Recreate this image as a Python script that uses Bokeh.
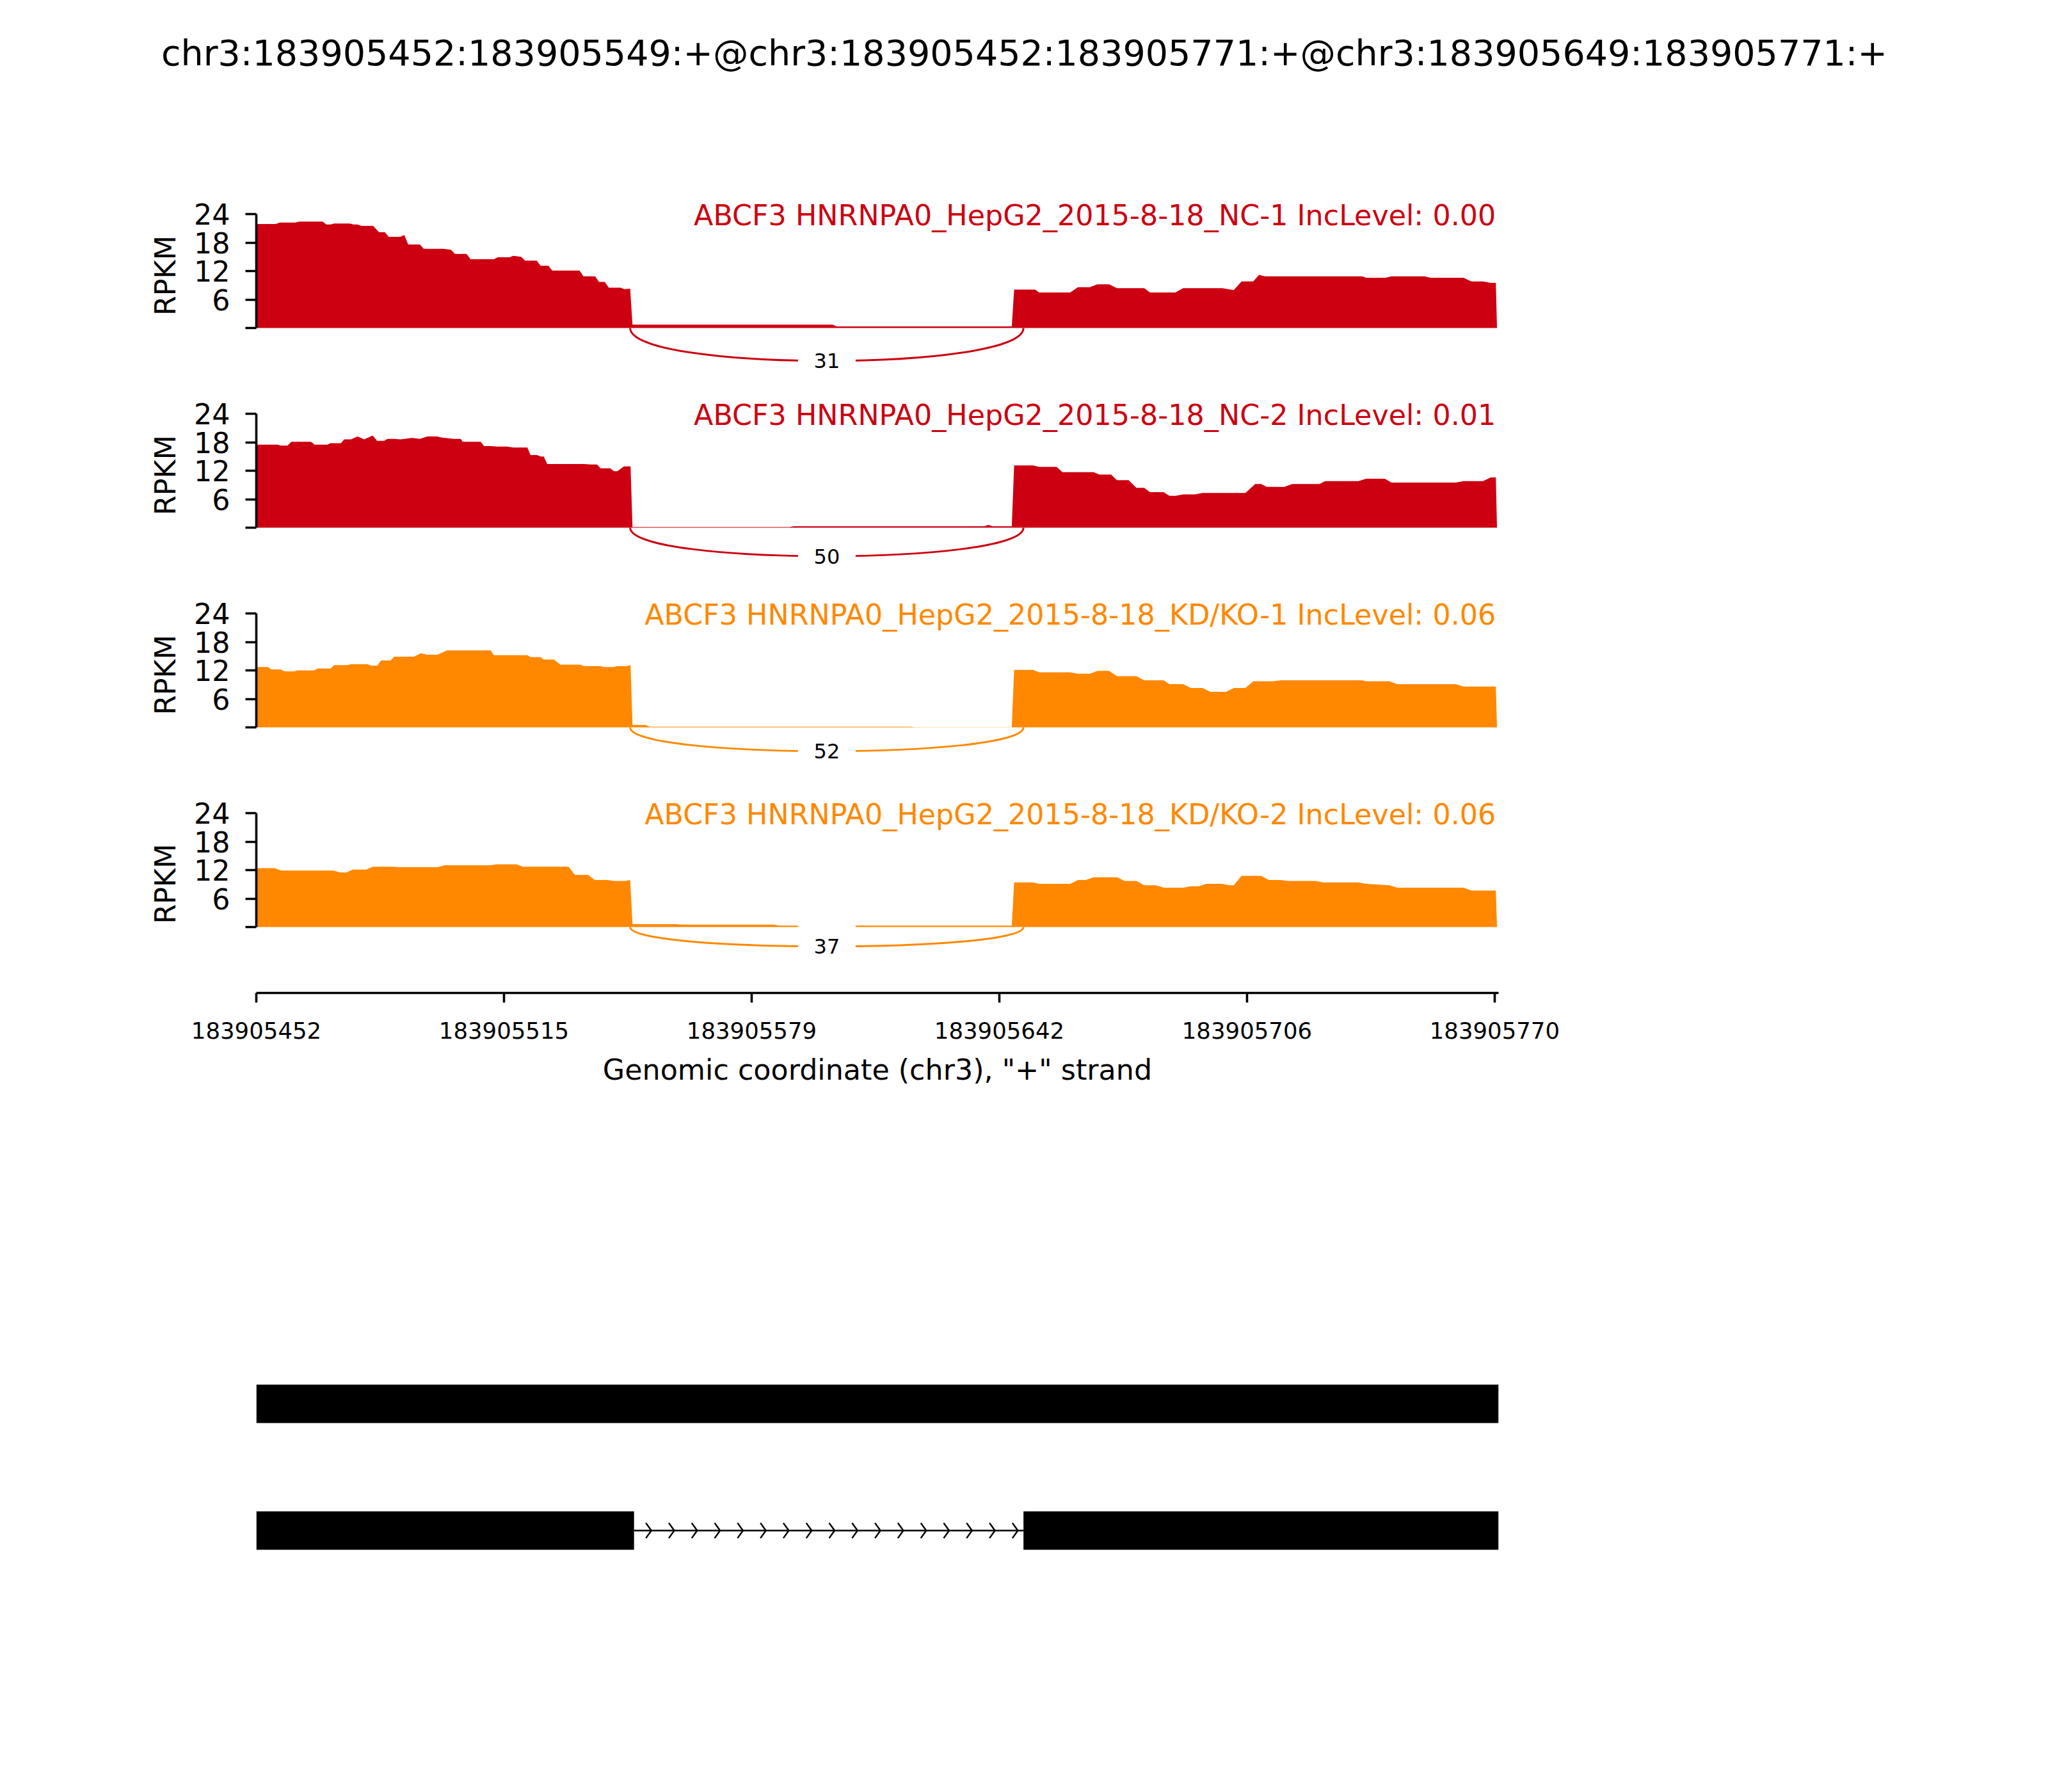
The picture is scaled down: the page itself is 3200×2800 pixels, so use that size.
from bokeh.plotting import figure
from bokeh.layouts import column
from bokeh.models import Range1d, FixedTicker, CustomJSTickFormatter
from bokeh.embed import file_html
from bokeh.resources import INLINE
from bokeh.core.properties import value

FONT = "DejaVu Sans"
RED = "#CC0011"
ORANGE = "#FF8800"

title_text = "chr3:183905452:183905549:+@chr3:183905452:183905771:+@chr3:183905649:183905771:+"
region_start = 183905452
region_end = 183905771
sample_labels = [
    "ABCF3 HNRNPA0_HepG2_2015-8-18_NC-1 IncLevel: 0.00",
    "ABCF3 HNRNPA0_HepG2_2015-8-18_NC-2 IncLevel: 0.01",
    "ABCF3 HNRNPA0_HepG2_2015-8-18_KD/KO-1 IncLevel: 0.06",
    "ABCF3 HNRNPA0_HepG2_2015-8-18_KD/KO-2 IncLevel: 0.06",
]
sample_colors = [RED, RED, ORANGE, ORANGE]
junction_counts = [31, 50, 52, 37]
junction_left = 183905548
junction_right = 183905649
y_ticks = [0, 6, 12, 18, 24]
x_tick_pos = [183905452, 183905515.6, 183905579.2, 183905642.8, 183905706.4, 183905770]
# transcripts (exon start, exon end)
transcript_1 = [(183905452, 183905771)]
transcript_2 = [(183905452, 183905549), (183905649, 183905771)]

# coverage profiles: (offset in bp from 183905452, RPKM)
nc1_cov = [(0,21.9),(5,21.9),(6,22.2),(10,22.2),(11,22.4),(17,22.4),(18,21.8),(19,21.8),(20,22.0),(24,22.0),(25,21.8),(26,21.8),(27,21.5),(30,21.5),(31.5,20.2),(33,20.2),(34,19.2),(37,19.2),(38,19.6),(39,17.6),(42,17.6),(43,16.7),(48,16.7),(50,16.5),(51,15.6),(54,15.6),(55,14.5),(61,14.5),(62,14.9),(65,14.9),(66,15.2),(68,15.0),(69,14.2),(72,14.2),(73,13.1),(75,13.1),(76,12.1),(83,12.1),(84,10.9),(87,10.9),(88,9.7),(89.5,9.7),(90.5,8.5),(93.5,8.5),(94.5,8.2),(96,8.3),
           (96.6,0.7),(148,0.7),(149,0.35),(194,0.35),
           (194.6,8.1),(200,8.1),(201,7.5),(209,7.5),(211,8.6),(214,8.6),(216,9.2),(219,9.2),(221,8.4),(228,8.4),(229.5,7.5),(236,7.5),(238,8.4),(248,8.4),(251,8.0),(253,9.8),(256,9.8),(257.5,11.2),(259,10.9),(284,10.9),(285,10.6),(290,10.6),(291.5,10.9),(300,10.9),(301.5,10.6),(310,10.6),(312,9.8),(315,9.8),(317,9.5),(318.3,9.5),(318.6,0)]
nc2_cov = [(0,17.5),(5.5,17.5),(6.3,17.3),(8,17.3),(9,18.1),(14,18.1),(15,17.5),(18.3,17.5),(19,17.8),(21.7,17.8),(22.6,18.6),(24.3,18.6),(26,19.2),(27.7,18.6),(29.9,19.4),(31,18.3),(32.8,18.3),(33.7,18.7),(35.4,18.7),(37,18.6),(40,18.9),(42,18.7),(43.9,19.2),(46.5,19.2),(47.4,19.0),(50.8,18.7),(52.5,18.7),(53,18.1),(57.6,18.1),(58.5,17.2),(60.2,17.2),(61.9,17.1),(64.4,17.1),(66,16.9),(69.6,16.9),(70.4,15.3),(72.1,15.3),(73,15.0),(73.8,15.0),(74.7,13.4),(84.1,13.4),(85.8,13.3),(87.5,13.3),(88.4,12.5),(90.9,12.5),(91.8,11.9),(92.7,11.9),(94.4,12.9),(96.1,12.9),
           (96.6,0.15),(137,0.15),(138,0.3),(187,0.3),(188,0.6),(189,0.3),(194,0.3),
           (194.6,13.1),(199.5,13.1),(201,12.8),(205.5,12.8),(207,11.7),(215,11.7),(216.5,11.2),(219.5,11.2),(221,10.0),(224,10.0),(226,8.4),(228,8.4),(229.5,7.5),(233,7.5),(234.5,6.7),(236,6.7),(238,7.0),(241,7.0),(243,7.3),(254,7.3),(256.5,9.2),(258,9.2),(259.5,8.6),(264,8.6),(266,9.2),(273,9.2),(274.5,9.8),(283,9.8),(285,10.3),(289.8,10.3),(291.5,9.5),(308,9.5),(310,9.8),(315,9.8),(317,10.6),(318.3,10.6),(318.6,0)]
kd1_cov = [(0,12.7),(3,12.7),(3.8,12.2),(6.3,12.2),(7.2,11.8),(9.7,11.8),(10.6,12.0),(14.9,12.0),(15.7,12.4),(19.1,12.4),(20,13.1),(23.4,13.1),(24.3,13.3),(28.5,13.3),(29.4,13.0),(31.1,13.0),(32,14.1),(34.5,14.1),(35.4,14.9),(40.5,14.9),(42.2,15.6),(43.9,15.3),(46.5,15.3),(49,16.2),(60.2,16.2),(61,15.2),(69.6,15.2),(70.4,14.8),(73,14.8),(73.8,14.3),(76.4,14.3),(78.1,13.2),(83.2,13.2),(84.1,12.9),(88.4,12.9),(89.2,12.7),(91.8,12.7),(92.7,12.9),(95.2,12.9),(96.1,13.1),
           (96.6,0.5),(100,0.5),(101,0.15),(168,0.15),(169,0.05),(194,0.05),
           (194.6,12.1),(199.5,12.1),(201,11.6),(209,11.6),(211,11.3),(214,11.3),(216,11.9),(219,11.9),(221,10.8),(226,10.8),(228,9.9),(233,9.9),(234.5,9.1),(238,9.1),(240,8.3),(243,8.3),(245,7.5),(249,7.5),(251,8.3),(254,8.3),(256,9.7),(261,9.7),(263,9.9),(284,9.9),(285,9.7),(291,9.7),(293,9.1),(308,9.1),(310,8.6),(318.3,8.6),(318.6,0)]
kd2_cov = [(0,12.4),(4.7,12.4),(6.4,11.9),(19.8,11.9),(21.5,11.5),(23.1,11.5),(24.8,12.1),(28.2,12.1),(29.9,12.7),(34.9,12.7),(36.6,12.6),(46.6,12.6),(48.3,13.0),(60,13.0),(61.7,13.2),(66.8,13.2),(68.4,12.7),(80.2,12.7),(81.8,11.0),(85.2,11.0),(86.9,9.9),(90.2,9.9),(91.9,9.7),(94.6,9.7),(96,9.9),
           (96.6,0.6),(108,0.6),(109,0.5),(133,0.5),(134,0.3),(194,0.3),
           (194.6,9.4),(199.5,9.4),(201,9.1),(209,9.1),(211,9.9),(213,9.9),(215,10.5),(221,10.5),(223,9.7),(226,9.7),(228,8.8),(231,8.8),(233,8.3),(238,8.3),(240,8.6),(242,8.6),(244,9.1),(248,9.1),(250,8.8),(251,8.8),(253,10.8),(258,10.8),(260,9.9),(263,9.9),(265,9.7),(272,9.7),(274,9.4),(283,9.4),(285,9.1),(291,8.8),(293,8.3),(310,8.3),(312,7.7),(318.3,7.7),(318.6,0)]
coverages = [nc1_cov, nc2_cov, kd1_cov, kd2_cov]

# ---------------- layout constants (pixels) ----------------
W = 3184
LEFT = 400
FRAME_W = 1941
RIGHT = W - LEFT - FRAME_W
PPU = 178 / 24.0          # pixels per RPKM unit
TOP_PAD = 60              # pixels from figure top to the 24 level
track_heights = [312, 312, 312]
last_frame_h = 341
last_bottom = 200
HEADER_H = 274
GENE_H = 1033
ROW_PX = 198.0

xr = Range1d(region_start, region_end)


def styled(p):
    p.outline_line_color = None
    p.xgrid.visible = False
    p.ygrid.visible = False
    p.background_fill_color = "white"
    p.border_fill_color = "white"
    return p


def style_axis(ax, label_size):
    ax.axis_label_text_font = FONT
    ax.axis_label_text_font_size = "44.4px"
    ax.axis_label_text_font_style = "normal"
    ax.axis_label_text_color = "black"
    ax.major_label_text_font = FONT
    ax.major_label_text_font_size = label_size
    ax.major_label_text_color = "black"
    ax.axis_line_color = "black"
    ax.major_tick_line_color = "black"
    ax.axis_line_width = 3.6
    ax.major_tick_line_width = 3.6
    ax.major_tick_in = 0
    ax.minor_tick_out = 0
    ax.minor_tick_in = 0


# ---------------- header (separate root so its frame spans the page) ----------------
header = figure(width=W, height=HEADER_H, x_range=Range1d(0, W), y_range=Range1d(0, HEADER_H),
                x_axis_location=None, y_axis_location=None, toolbar_location=None,
                output_backend="svg", min_border=0)
styled(header)
header.text(x=[1600], y=[HEADER_H - 82], text=[title_text], text_font=value(FONT),
            text_font_size="55.5px", text_align="center", text_baseline="middle", text_color="black")

tracks = []
for i in range(4):
    last = (i == 3)
    fh = last_frame_h if last else track_heights[i]
    y_end = 24 + TOP_PAD / PPU
    y_start = y_end - fh / PPU
    p = figure(width=W, height=fh + (last_bottom if last else 0), x_range=xr,
               y_range=Range1d(y_start, y_end), toolbar_location=None, output_backend="svg",
               x_axis_location="below" if last else None, y_axis_location="left",
               min_border_left=LEFT, min_border_right=RIGHT, min_border_top=0,
               min_border_bottom=(last_bottom if last else 0))
    styled(p)
    color = sample_colors[i]
    cov = coverages[i]
    xs = [region_start + c[0] for c in cov]
    ys = [c[1] for c in cov]
    p.varea(x=xs, y1=[0] * len(xs), y2=ys, fill_color=color, fill_alpha=1.0)

    # junction arc below the axis
    h = 0.4125 * max(ys)
    p.bezier(x0=[junction_left], y0=[0], x1=[junction_right], y1=[0],
             cx0=[junction_left], cy0=[-h], cx1=[junction_right], cy1=[-h],
             line_color=color, line_width=3)
    mid_x = (junction_left + junction_right) / 2
    mid_y = -0.75 * h
    p.rect(x=[mid_x], y=[mid_y], width=90, height=66, width_units="screen", height_units="screen",
           fill_color="white", line_color=None)
    p.text(x=[mid_x], y=[mid_y], text=[str(junction_counts[i])], text_font=value(FONT),
           text_font_size="32px", text_align="center", text_baseline="middle", text_color="black")

    # sample title
    p.text(x=[region_start + 318.3], y=[24 - 2 / PPU], text=[sample_labels[i]], text_font=value(FONT),
           text_font_size="44.4px", text_align="right", text_baseline="alphabetic", text_color=color)

    ya = p.yaxis[0]
    ya.bounds = (0, 24)
    ya.ticker = FixedTicker(ticks=y_ticks, minor_ticks=[])
    ya.major_label_overrides = {0: ""}
    ya.axis_label = "RPKM"
    style_axis(ya, "44.4px")
    ya.axis_label_standoff = 16
    ya.major_label_standoff = 24
    ya.major_tick_out = 17
    ya.major_label_orientation = "horizontal"

    if last:
        xa = p.xaxis[0]
        xa.ticker = FixedTicker(ticks=x_tick_pos, minor_ticks=[])
        xa.formatter = CustomJSTickFormatter(code="return Math.floor(tick).toString();")
        xa.axis_label = 'Genomic coordinate (chr3), "+" strand'
        style_axis(xa, "35.5px")
        xa.axis_label_standoff = 20
        xa.major_label_standoff = 30
        xa.major_tick_out = 15
    tracks.append(p)

# ---------------- gene model ----------------
g_y0 = 1 - (GENE_H - 640) / ROW_PX
g = figure(width=W, height=GENE_H, x_range=xr, y_range=Range1d(g_y0, g_y0 + GENE_H / ROW_PX),
           x_axis_location=None, y_axis_location=None, toolbar_location=None, output_backend="svg",
           min_border_left=LEFT, min_border_right=RIGHT, min_border_top=0, min_border_bottom=0)
styled(g)
half = 30 / ROW_PX
for row, tx in ((2, transcript_1), (1, transcript_2)):
    g.quad(left=[e[0] for e in tx], right=[e[1] for e in tx], bottom=[row - half] * len(tx),
           top=[row + half] * len(tx), fill_color="black", line_color=None)
    for (a, b), (c, d) in zip(tx[:-1], tx[1:]):
        g.segment(x0=[b], y0=[row], x1=[c], y1=[row], line_color="black", line_width=2.5)
        step = (c - b) / 17.0
        tips = [b + step * (k + 0.5) + 1.5 for k in range(17)]
        g.segment(x0=[t - 1.4 for t in tips], y0=[row + 0.06] * len(tips), x1=tips, y1=[row] * len(tips),
                  line_color="black", line_width=2.5)
        g.segment(x0=[t - 1.4 for t in tips], y0=[row - 0.06] * len(tips), x1=tips, y1=[row] * len(tips),
                  line_color="black", line_width=2.5)

body = column(*tracks, g, spacing=0)
open("out.html", "w").write(file_html([header, body], INLINE))
